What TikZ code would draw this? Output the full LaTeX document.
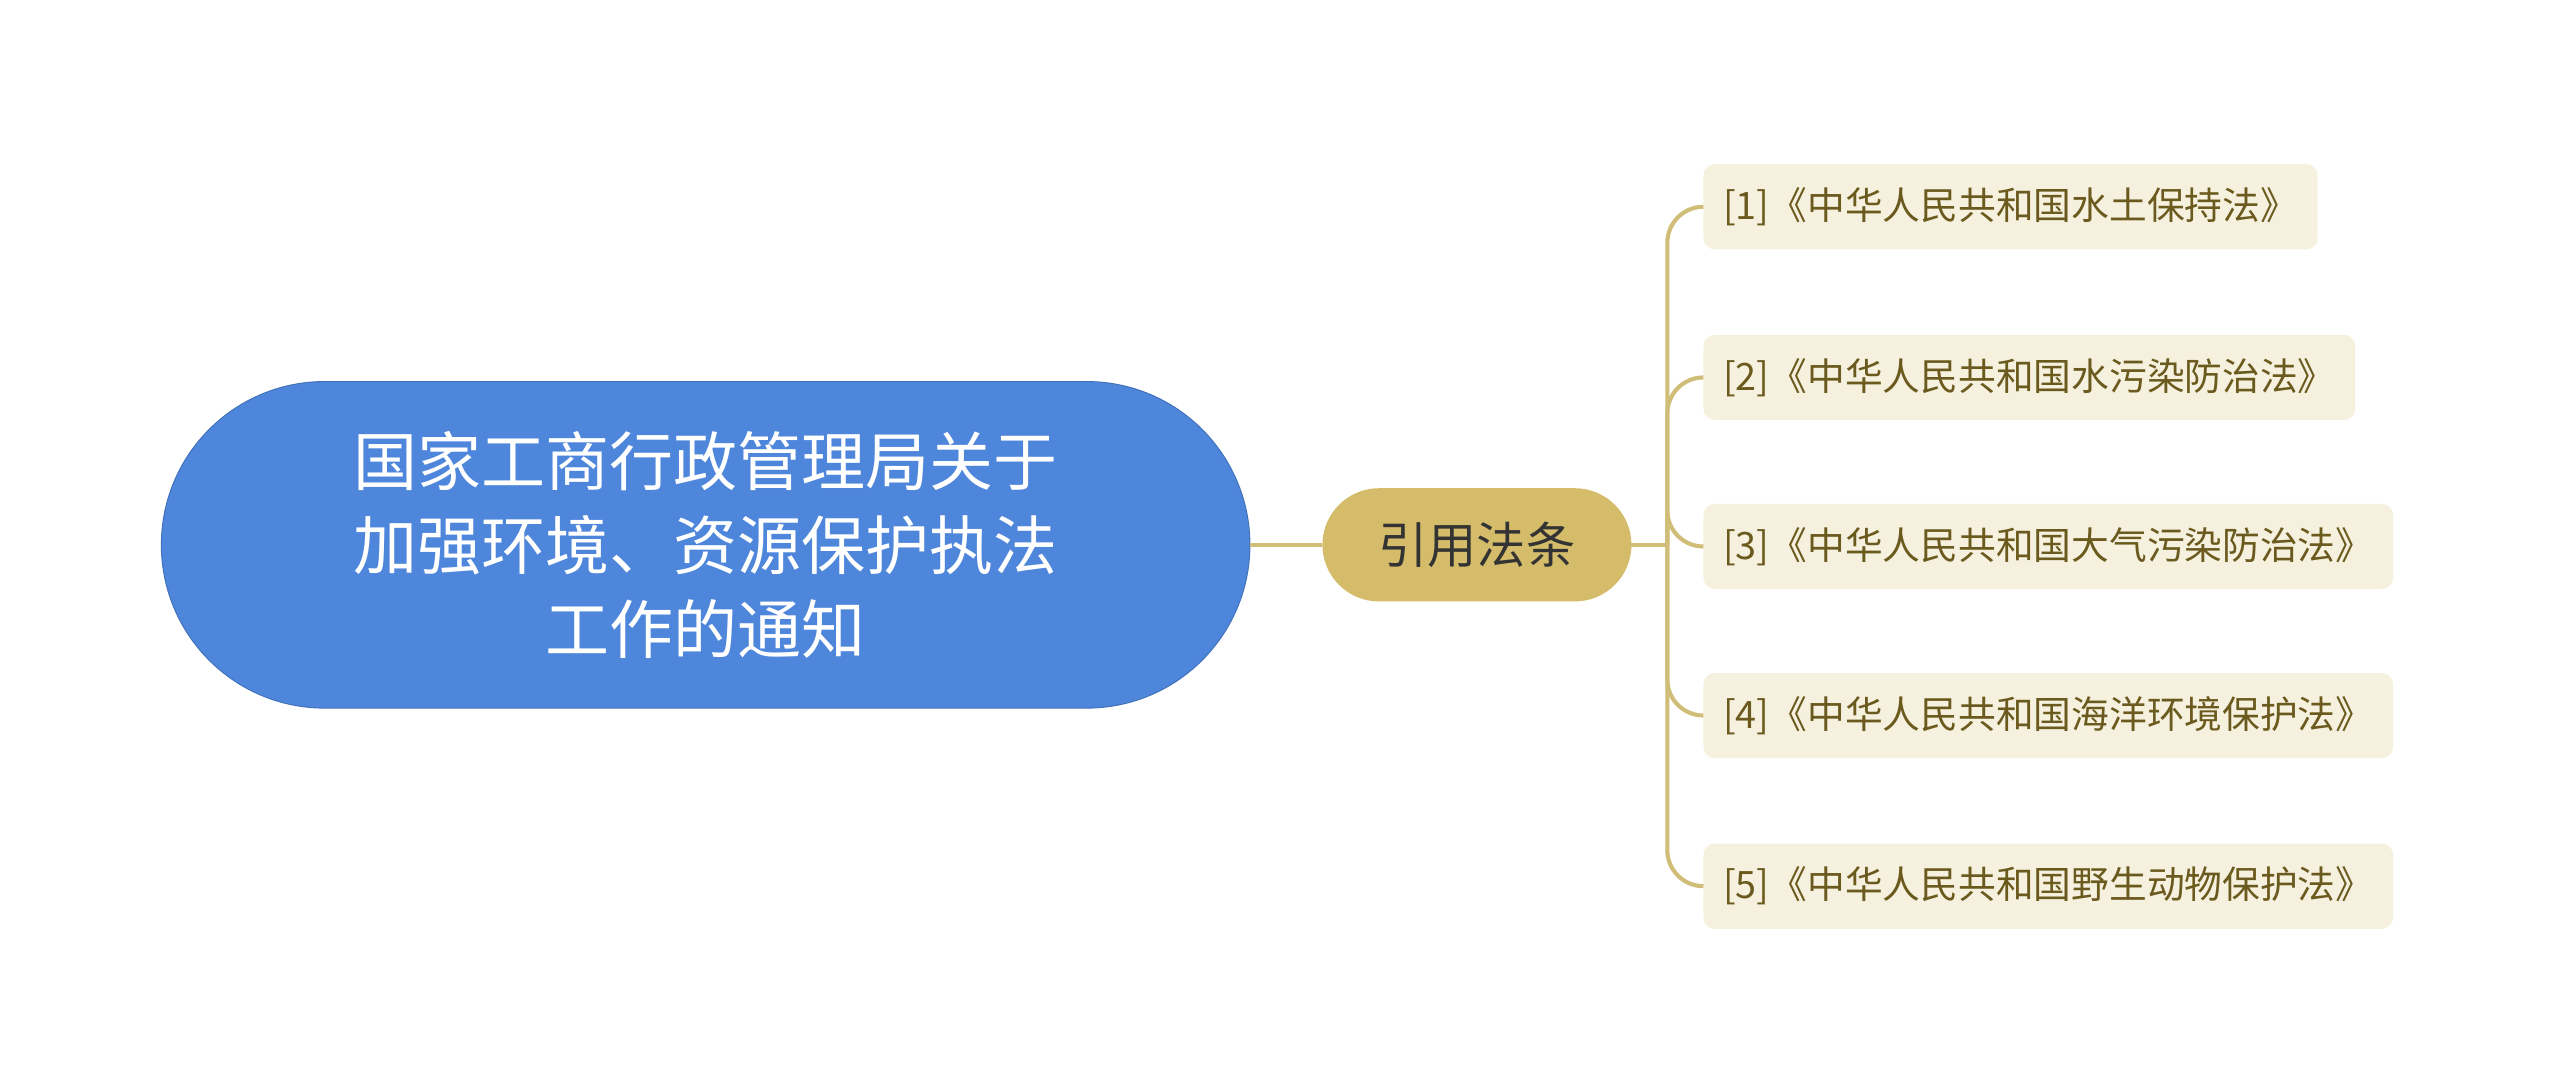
\documentclass[tikz,border=0pt]{standalone}
\usepackage{fontspec}
\setmainfont{Noto Sans CJK SC}
\usetikzlibrary{shapes.misc}
\definecolor{rootc}{HTML}{4E86DB}
\definecolor{midc}{HTML}{D4BC6A}
\definecolor{linec}{HTML}{CFBD78}
\definecolor{leaff}{HTML}{F6F1DF}
\definecolor{leaft}{HTML}{6B5A1E}
\begin{document}
\begin{tikzpicture}[x=1pt,y=-1pt,
  rootbox/.style={rounded rectangle, fill=rootc, draw=rootc!85!black, line width=0.6pt, outer sep=0pt, minimum width=670pt, minimum height=199pt, text=white, font=\fontsize{39}{51}\selectfont, align=center},
  midbox/.style={rounded rectangle, fill=midc, outer sep=0pt, minimum width=195pt, minimum height=69pt, text=black!80, font=\fontsize{30}{34}\selectfont},
  leafbox/.style={fill=leaff, rounded corners=7pt, anchor=west, outer sep=0pt, minimum height=52pt, inner xsep=12pt, text=leaft, font=\fontsize{23}{27}\selectfont},
  conn/.style={draw=linec, line width=2.5pt}]
\useasboundingbox (0,0) rectangle (1560,662);
\node[rootbox] (root) at (430,332) {国家工商行政管理局关于\\加强环境、资源保护执法\\工作的通知};
\node[midbox] (mid) at (900,332) {引用法条};
\node[leafbox] (l1) at (1038,126) {[1]《中华人民共和国水土保持法》};
\node[leafbox] (l2) at (1038,230) {[2]《中华人民共和国水污染防治法》};
\node[leafbox] (l3) at (1038,333) {[3]《中华人民共和国大气污染防治法》};
\node[leafbox] (l4) at (1038,436) {[4]《中华人民共和国海洋环境保护法》};
\node[leafbox] (l5) at (1038,540) {[5]《中华人民共和国野生动物保护法》};
\draw[conn] (root.east) -- (mid.west);
\coordinate (j) at (1016,332);
\draw[conn] (mid.east) -- (j);
\foreach \n in {l1,l2,l3,l4,l5}{
  \draw[conn, rounded corners=22pt] (j) |- (\n.west);
}
\end{tikzpicture}
\end{document}
